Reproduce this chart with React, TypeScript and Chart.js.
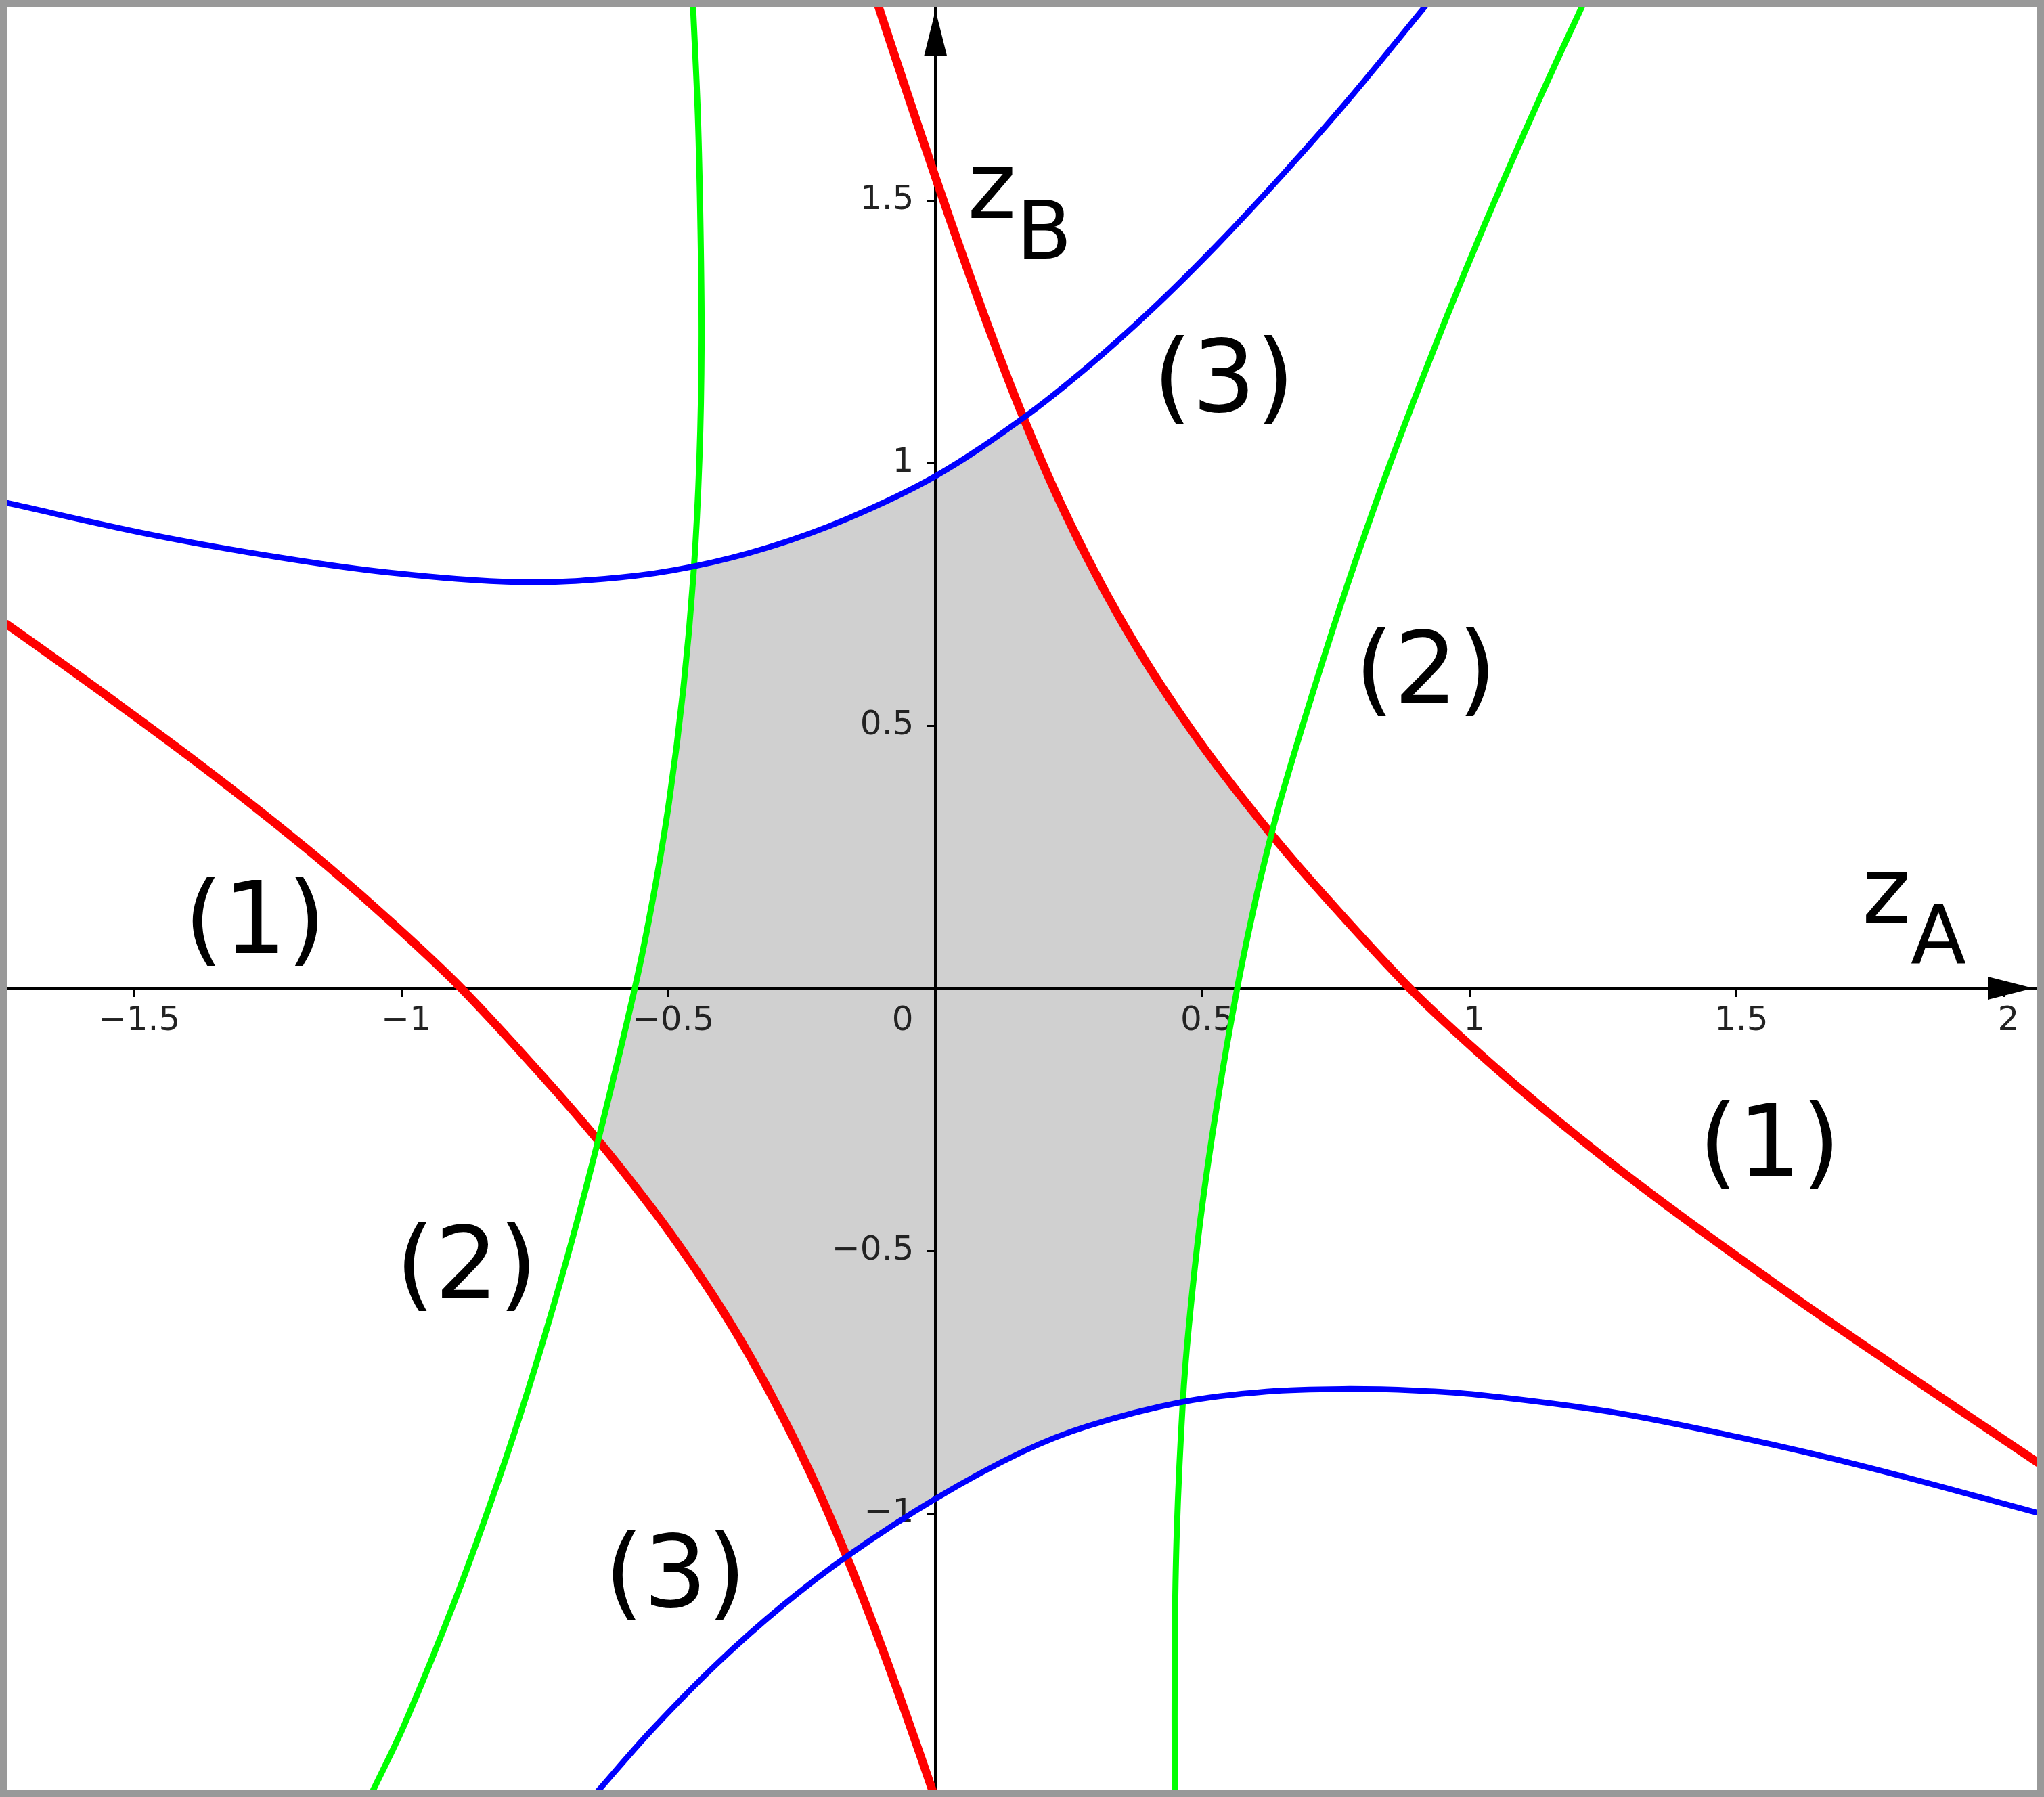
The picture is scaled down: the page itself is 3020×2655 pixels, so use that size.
import React, { useEffect, useRef } from 'react';
import { Chart, registerables } from 'chart.js';

Chart.register(...registerables);

// ---- axis ranges and ticks ----
const xRange: [number, number] = [-1.739, 2.063];
const yRange: [number, number] = [-1.527, 1.8686];
const xTickValues = [-1.5, -1, -0.5, 0, 0.5, 1, 1.5, 2];
const xTickLabels = ['−1.5', '−1', '−0.5', '0', '0.5', '1', '1.5', '2'];
const yTickValues = [-1, -0.5, 0.5, 1, 1.5];
const yTickLabels = ['−1', '−0.5', '0.5', '1', '1.5'];

// ---- curve (1): red ----
const redUpperBranch: [number, number][] = [
  [-0.107, 1.87], [-0.052, 1.701], [0, 1.544], [0.055, 1.383], [0.11, 1.229], [0.164, 1.088],
  [0.223, 0.948], [0.284, 0.82], [0.345, 0.705], [0.406, 0.602], [0.467, 0.509], [0.528, 0.423],
  [0.629, 0.293], [0.733, 0.1705], [0.888, 0], [1.017, -0.123], [1.139, -0.23], [1.261, -0.33],
  [1.383, -0.424], [1.505, -0.514], [1.627, -0.602], [1.749, -0.687], [1.871, -0.771], [2.064, -0.903],
];
const redLowerBranch: [number, number][] = [
  [-1.739, 0.693], [-1.627, 0.612], [-1.505, 0.522], [-1.383, 0.43], [-1.261, 0.334], [-1.139, 0.233],
  [-1.017, 0.124], [-0.888, 0], [-0.733, -0.1705], [-0.629, -0.293], [-0.528, -0.423], [-0.467, -0.509],
  [-0.406, -0.602], [-0.345, -0.705], [-0.284, -0.82], [-0.223, -0.948], [-0.164, -1.088], [-0.11, -1.229],
  [-0.055, -1.383], [0, -1.544],
];

// ---- curve (2): green ----
const greenLeftBranch: [number, number][] = [
  [-0.454, 1.87], [-0.445, 1.663], [-0.44, 1.445], [-0.438, 1.227], [-0.442, 1.009], [-0.453, 0.79],
  [-0.472, 0.572], [-0.499, 0.354], [-0.529, 0.171], [-0.563, 0], [-0.63, -0.283], [-0.682, -0.485],
  [-0.744, -0.703], [-0.813, -0.921], [-0.898, -1.161], [-0.994, -1.401], [-1.053, -1.527],
];
const greenRightBranch: [number, number][] = [
  [0.448, -1.527], [0.448, -1.248], [0.452, -1.03], [0.463, -0.79], [0.474, -0.648], [0.496, -0.441],
  [0.527, -0.223], [0.565, 0], [0.6, 0.171], [0.629, 0.293], [0.651, 0.376], [0.706, 0.561],
  [0.768, 0.758], [0.843, 0.976], [0.916, 1.172], [0.989, 1.358], [1.061, 1.532], [1.142, 1.718],
  [1.211, 1.87],
];

// ---- curve (3): blue ----
const blueUpperBranch: [number, number][] = [
  [-1.739, 0.924], [-1.471, 0.864], [-1.227, 0.82], [-1.019, 0.791], [-0.775, 0.773], [-0.592, 0.782],
  [-0.458, 0.802], [-0.311, 0.84], [-0.165, 0.894], [0, 0.975], [0.162, 1.084], [0.284, 1.182],
  [0.406, 1.293], [0.528, 1.416], [0.65, 1.549], [0.772, 1.69], [0.919, 1.872],
];
const blueLowerBranch: [number, number][] = [
  [-0.635, -1.532], [-0.531, -1.412], [-0.409, -1.286], [-0.287, -1.176], [-0.165, -1.081], [0, -0.972],
  [0.162, -0.883], [0.284, -0.834], [0.461, -0.788], [0.62, -0.768], [0.763, -0.763], [0.9, -0.766],
  [1.016, -0.774], [1.261, -0.806], [1.505, -0.855], [1.749, -0.913], [2.064, -0.999],
];

// ---- shaded feasible region (boundary) ----
const shadedRegion: [number, number][] = [
  [-0.456, 0.802], [-0.311, 0.84], [-0.165, 0.894], [0, 0.975], [0.165, 1.086],
  [0.223, 0.948], [0.284, 0.82], [0.345, 0.705], [0.406, 0.602], [0.467, 0.509], [0.528, 0.423], [0.629, 0.293],
  [0.6, 0.171], [0.565, 0], [0.527, -0.223], [0.496, -0.441], [0.474, -0.648], [0.462, -0.789],
  [0.284, -0.834], [0.162, -0.883], [0, -0.972], [-0.167, -1.082],
  [-0.223, -0.948], [-0.284, -0.82], [-0.345, -0.705], [-0.406, -0.602], [-0.467, -0.509], [-0.528, -0.423], [-0.631, -0.29],
  [-0.563, 0], [-0.529, 0.171], [-0.499, 0.354], [-0.472, 0.572], [-0.456, 0.802],
];

// ---- text annotations ----
const regionLabelTexts = ['(1)', '(1)', '(2)', '(2)', '(3)', '(3)'];
const regionLabelX = [-1.274, 1.562, 0.918, -0.878, 0.54, -0.487];
const regionLabelY = [0.117, -0.309, 0.592, -0.54, 1.148, -1.128];
const axisNameMain = ['z', 'z'];
const axisNameSub = ['B', 'A'];
const axisNameX = [0.06, 1.735];
const axisNameY = [1.466, 0.125];

const FONT = '"DejaVu Sans", "Liberation Sans", sans-serif';

const toPoints = (arr: [number, number][]) => arr.map(([x, y]) => ({ x, y }));

const overlayPlugin = {
  id: 'overlay',
  afterDraw(chart: any) {
    const { ctx, chartArea, scales } = chart;
    const xs = scales.x;
    const ys = scales.y;
    const ox = xs.getPixelForValue(0);
    const oy = ys.getPixelForValue(0);
    ctx.save();
    ctx.fillStyle = '#000';
    // arrow heads
    ctx.beginPath();
    ctx.moveTo(ox, chartArea.top + 5);
    ctx.lineTo(ox - 17, chartArea.top + 73);
    ctx.lineTo(ox + 17, chartArea.top + 73);
    ctx.closePath();
    ctx.fill();
    ctx.beginPath();
    ctx.moveTo(chartArea.right - 6, oy);
    ctx.lineTo(chartArea.right - 73, oy - 17);
    ctx.lineTo(chartArea.right - 73, oy + 17);
    ctx.closePath();
    ctx.fill();

    // region labels
    ctx.font = `148px ${FONT}`;
    ctx.textAlign = 'center';
    ctx.textBaseline = 'middle';
    regionLabelTexts.forEach((t, i) => {
      ctx.fillText(t, xs.getPixelForValue(regionLabelX[i]), ys.getPixelForValue(regionLabelY[i]));
    });

    // axis names with subscripts
    ctx.textAlign = 'left';
    ctx.textBaseline = 'alphabetic';
    axisNameMain.forEach((m, i) => {
      const px = xs.getPixelForValue(axisNameX[i]);
      const py = ys.getPixelForValue(axisNameY[i]);
      ctx.font = `137px ${FONT}`;
      ctx.fillText(m, px, py);
      const w = ctx.measureText(m).width;
      ctx.font = `120px ${FONT}`;
      ctx.fillText(axisNameSub[i], px + w, py + 60);
    });
    ctx.restore();
  },
};

const noPadding = (s: any) => {
  s.paddingTop = 0;
  s.paddingBottom = 0;
  s.paddingLeft = 0;
  s.paddingRight = 0;
};

export default function App() {
  const canvasRef = useRef<HTMLCanvasElement | null>(null);

  useEffect(() => {
    const canvas = canvasRef.current;
    if (!canvas) return;
    const curve = (data: [number, number][], color: string, width: number) => ({
      data: toPoints(data),
      showLine: true,
      fill: false,
      borderColor: color,
      backgroundColor: color,
      borderWidth: width,
      pointRadius: 0,
      tension: 0.35,
      borderCapStyle: 'round',
    });
    const chart = new Chart(canvas, {
      type: 'scatter',
      data: {
        datasets: [
          curve(blueUpperBranch, '#0000FF', 8.5),
          curve(blueLowerBranch, '#0000FF', 8.5),
          curve(greenLeftBranch, '#00FF00', 9),
          curve(greenRightBranch, '#00FF00', 9),
          curve(redUpperBranch, '#FF0000', 12.5),
          curve(redLowerBranch, '#FF0000', 12.5),
          {
            data: toPoints(shadedRegion),
            showLine: true,
            fill: 'shape',
            backgroundColor: '#D0D0D0',
            borderColor: 'rgba(0,0,0,0)',
            borderWidth: 0,
            pointRadius: 0,
            tension: 0,
          },
        ] as any,
      },
      options: {
        responsive: false,
        animation: false,
        devicePixelRatio: 1,
        events: [],
        layout: { padding: 0 },
        plugins: {
          legend: { display: false },
          tooltip: { enabled: false },
          filler: { drawTime: 'beforeDraw' },
        } as any,
        scales: {
          x: {
            type: 'linear',
            min: xRange[0],
            max: xRange[1],
            position: { y: 0 } as any,
            afterBuildTicks: (s: any) => {
              s.ticks = xTickValues.map((v) => ({ value: v }));
            },
            afterFit: noPadding,
            grid: { drawOnChartArea: false, drawTicks: true, tickLength: 11, tickWidth: 3, tickColor: '#000' },
            border: { display: true, color: '#000', width: 4 },
            ticks: {
              autoSkip: false,
              minRotation: 0,
              maxRotation: 0,
              padding: 8,
              labelOffset: 7,
              color: '#222',
              font: { family: FONT, size: 50 },
              callback: (v: any) => {
                const i = xTickValues.indexOf(Number(v));
                const lbl = xTickLabels[i] ?? '';
                return Number(v) === 0 ? lbl + '       ' : lbl;
              },
            },
          },
          y: {
            type: 'linear',
            min: yRange[0],
            max: yRange[1],
            position: { x: 0 } as any,
            afterBuildTicks: (s: any) => {
              s.ticks = yTickValues.map((v) => ({ value: v }));
            },
            afterFit: noPadding,
            grid: { drawOnChartArea: false, drawTicks: true, tickLength: 11, tickWidth: 3, tickColor: '#000' },
            border: { display: true, color: '#000', width: 4 },
            ticks: {
              autoSkip: false,
              padding: 8,
              color: '#222',
              font: { family: FONT, size: 50 },
              callback: (v: any) => {
                const i = yTickValues.indexOf(Number(v));
                return (yTickLabels[i] ?? '') + '  ';
              },
            },
          },
        },
      } as any,
      plugins: [overlayPlugin],
    });
    return () => chart.destroy();
  }, []);

  return (
    <div
      style={{
        position: 'absolute',
        left: 0,
        top: 0,
        width: 3020,
        height: 2655,
        boxSizing: 'border-box',
        border: '10px solid #999999',
        background: '#ffffff',
      }}
    >
      <canvas ref={canvasRef} width={3000} height={2635} style={{ display: 'block', width: 3000, height: 2635 }} />
    </div>
  );
}
